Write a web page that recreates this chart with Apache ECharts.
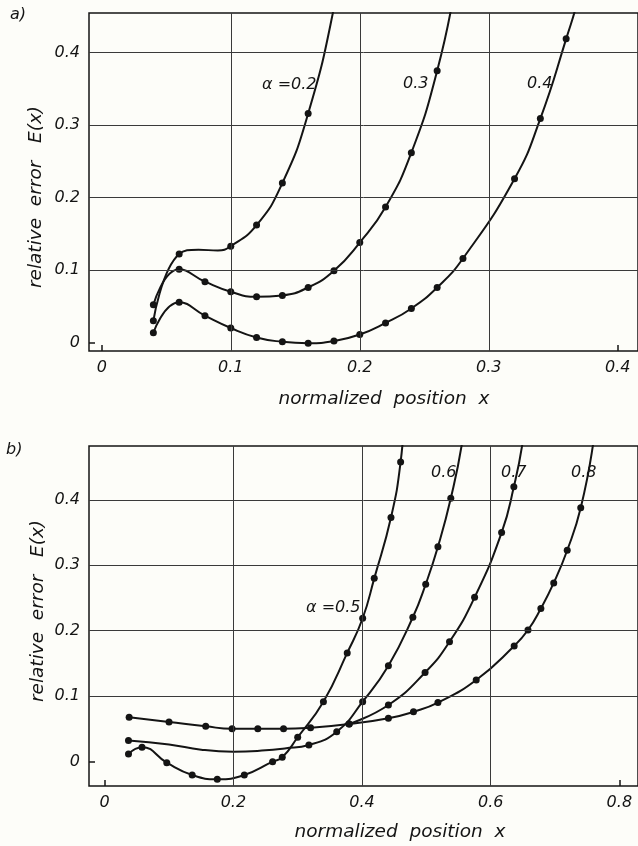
<!DOCTYPE html>
<html>
<head>
<meta charset="utf-8">
<script src="https://cdn.jsdelivr.net/npm/echarts@6/dist/echarts.min.js"></script>
<style>
  html, body { margin: 0; padding: 0; background: #fdfdf9; }
  #chart { width: 638px; height: 846px; }
</style>
</head>
<body>
<div id="chart"></div>
<script>
// ---- panel a): alpha = 0.2, 0.3, 0.4 ----
// measured points (drawn with dots)
const a02Dots = [[0.04, 0.030], [0.06, 0.122], [0.10, 0.133], [0.12, 0.162], [0.14, 0.220], [0.16, 0.316]];
const a03Dots = [[0.04, 0.052], [0.06, 0.101], [0.08, 0.084], [0.10, 0.070], [0.12, 0.063], [0.14, 0.065],
                 [0.16, 0.076], [0.18, 0.099], [0.20, 0.138], [0.22, 0.187], [0.24, 0.262], [0.26, 0.375]];
const a04Dots = [[0.04, 0.0135], [0.06, 0.0555], [0.08, 0.037], [0.10, 0.020], [0.12, 0.007], [0.14, 0.001],
                 [0.16, -0.001], [0.18, 0.002], [0.20, 0.011], [0.22, 0.027], [0.24, 0.047], [0.26, 0.076],
                 [0.28, 0.116], [0.32, 0.226], [0.34, 0.309], [0.36, 0.419]];
// extra points along the drawn curves (no dot)
const a02Curve = [[0.075, 0.128], [0.09, 0.127], [0.18, 0.462], [0.186, 0.54]];
const a03Curve = [[0.275, 0.50], [0.28, 0.56]];
const a04Curve = [[0.37, 0.48], [0.376, 0.54]];

// ---- panel b): alpha = 0.5, 0.6, 0.7, 0.8 ----
const a05Dots = [[0.037, 0.0115], [0.058, 0.0217], [0.0965, -0.0018], [0.136, -0.0206], [0.175, -0.0272],
                 [0.217, -0.0206], [0.261, -0.0003], [0.276, 0.0064], [0.300, 0.037], [0.340, 0.0914],
                 [0.377, 0.166], [0.401, 0.219], [0.419, 0.280], [0.445, 0.373], [0.460, 0.458]];
const a06Dots = [[0.037, 0.032], [0.3174, 0.0252], [0.3607, 0.0456], [0.401, 0.0914], [0.441, 0.1465],
                 [0.479, 0.2205], [0.499, 0.271], [0.518, 0.3284], [0.538, 0.4024]];
const a07Dots = [[0.380, 0.0573], [0.441, 0.0864], [0.498, 0.136], [0.536, 0.183], [0.575, 0.251],
                 [0.617, 0.350], [0.636, 0.420]];
const a08Dots = [[0.038, 0.0676], [0.100, 0.0604], [0.157, 0.0538], [0.198, 0.050], [0.238, 0.050],
                 [0.278, 0.050], [0.320, 0.0517], [0.380, 0.0573], [0.441, 0.066], [0.480, 0.076],
                 [0.518, 0.090], [0.5775, 0.1246], [0.6365, 0.1766], [0.658, 0.201], [0.678, 0.234],
                 [0.698, 0.273], [0.719, 0.323], [0.740, 0.388]];
const a05Curve = [[0.466, 0.54]];
const a06Curve = [[0.10, 0.026], [0.15, 0.018], [0.20, 0.015], [0.25, 0.017], [0.28, 0.020], [0.556, 0.49], [0.562, 0.55]];
const a07Curve = [[0.65, 0.49], [0.656, 0.55]];
const a08Curve = [[0.76, 0.49], [0.766, 0.55]];

// axes: tick labels, grid lines and small end ticks
const xLabelsA = [0, 0.1, 0.2, 0.3, 0.4];
const xGridA = [0.1, 0.2, 0.3];
const xTicksA = [0, 0.4];
const yLabels = [0, 0.1, 0.2, 0.3, 0.4];
const yGrid = [0.1, 0.2, 0.3, 0.4];
const yTicks = [0];
const xLabelsB = [0, 0.2, 0.4, 0.6, 0.8];
const xGridB = [0.2, 0.4, 0.6];
const xTicksB = [0, 0.8];

const INK = '#141414';
const GRIDC = '#3a3a3a';
const FONT = 'DejaVu Sans';

function curveData(dots, extra) {
  const pts = dots.map(p => ({ value: p }))
    .concat(extra.map(p => ({ value: p, symbol: 'none' })));
  pts.sort((a, b) => a.value[0] - b.value[0]);
  return pts;
}

function curve(dots, extra, idx) {
  return {
    type: 'line', xAxisIndex: idx, yAxisIndex: idx,
    data: curveData(dots, extra),
    smooth: 0.5,
    symbol: 'circle', symbolSize: 7, showAllSymbol: true,
    itemStyle: { color: INK },
    lineStyle: { color: INK, width: 2 },
    clip: true, silent: true, z: 3
  };
}

function gridLines(xs, ys, idx) {
  return {
    type: 'line', xAxisIndex: idx, yAxisIndex: idx, data: [], silent: true, z: 1,
    markLine: {
      silent: true, symbol: 'none', animation: false,
      label: { show: false },
      lineStyle: { color: GRIDC, width: 1, type: 'solid' },
      data: xs.map(v => ({ xAxis: v })).concat(ys.map(v => ({ yAxis: v })))
    }
  };
}

const labelFmt = v => (Math.abs(v) < 1e-9 ? '0' : (+v.toFixed(2)).toString());
const axisText = { fontFamily: FONT, fontStyle: 'italic', fontSize: 16, color: INK };

function xAxis(idx, min, max, labels, ticks) {
  return {
    type: 'value', gridIndex: idx, min: min, max: max,
    axisLine: { show: false, onZero: false },
    splitLine: { show: false },
    axisTick: { show: true, inside: true, length: 6, customValues: ticks, lineStyle: { color: INK, width: 1.5 } },
    axisLabel: Object.assign({ customValues: labels, margin: 9, formatter: labelFmt }, axisText)
  };
}
function yAxis(idx, min, max) {
  return {
    type: 'value', gridIndex: idx, min: min, max: max,
    axisLine: { show: false, onZero: false },
    splitLine: { show: false },
    axisTick: { show: true, inside: true, length: 6, customValues: yTicks, lineStyle: { color: INK, width: 1.5 } },
    axisLabel: Object.assign({ customValues: yLabels, margin: 9, formatter: labelFmt }, axisText)
  };
}

function txt(x, y, s) {
  return {
    type: 'text', x: x, y: y,
    style: { text: s, fill: INK, font: 'italic 16px "' + FONT + '"', align: 'left', verticalAlign: 'middle' }
  };
}
function title(x, y, s, rot) {
  return {
    type: 'text', x: x, y: y, rotation: rot,
    style: { text: s, fill: INK, font: 'italic 18.5px "' + FONT + '"', align: 'center', verticalAlign: 'middle' }
  };
}

const chart = echarts.init(document.getElementById('chart'), null, { renderer: 'canvas' });
chart.setOption({
  backgroundColor: '#fdfdf9',
  animation: false,
  grid: [
    { left: 89, top: 13, width: 560, height: 338, show: true, borderColor: INK, borderWidth: 1.5, backgroundColor: 'transparent' },
    { left: 89, top: 446, width: 560, height: 340, show: true, borderColor: INK, borderWidth: 1.5, backgroundColor: 'transparent' }
  ],
  xAxis: [
    xAxis(0, -0.0099, 0.4157, xLabelsA, xTicksA),
    xAxis(1, -0.0244, 0.829, xLabelsB, xTicksB)
  ],
  yAxis: [
    yAxis(0, -0.0117, 0.4547),
    yAxis(1, -0.0375, 0.4824)
  ],
  series: [
    gridLines(xGridA, yGrid, 0),
    gridLines(xGridB, yGrid, 1),
    curve(a02Dots, a02Curve, 0),
    curve(a03Dots, a03Curve, 0),
    curve(a04Dots, a04Curve, 0),
    curve(a05Dots, a05Curve, 1),
    curve(a06Dots, a06Curve, 1),
    curve(a07Dots, a07Curve, 1),
    curve(a08Dots, a08Curve, 1)
  ],
  graphic: [
    txt(10, 15, 'a)'),
    txt(6, 450, 'b)'),
    // curve labels, panel a
    txt(262, 85, 'α =0.2'),
    txt(403, 84, '0.3'),
    txt(527, 84, '0.4'),
    // curve labels, panel b
    txt(431, 473, '0.6'),
    txt(501, 473, '0.7'),
    txt(571, 473, '0.8'),
    txt(306, 608, 'α =0.5'),
    // axis titles
    title(36, 197, 'relative  error   E(x)', Math.PI / 2),
    title(38, 611, 'relative  error   E(x)', Math.PI / 2),
    title(384, 399, 'normalized  position  x', 0),
    title(400, 832, 'normalized  position  x', 0)
  ]
});
</script>
</body>
</html>
